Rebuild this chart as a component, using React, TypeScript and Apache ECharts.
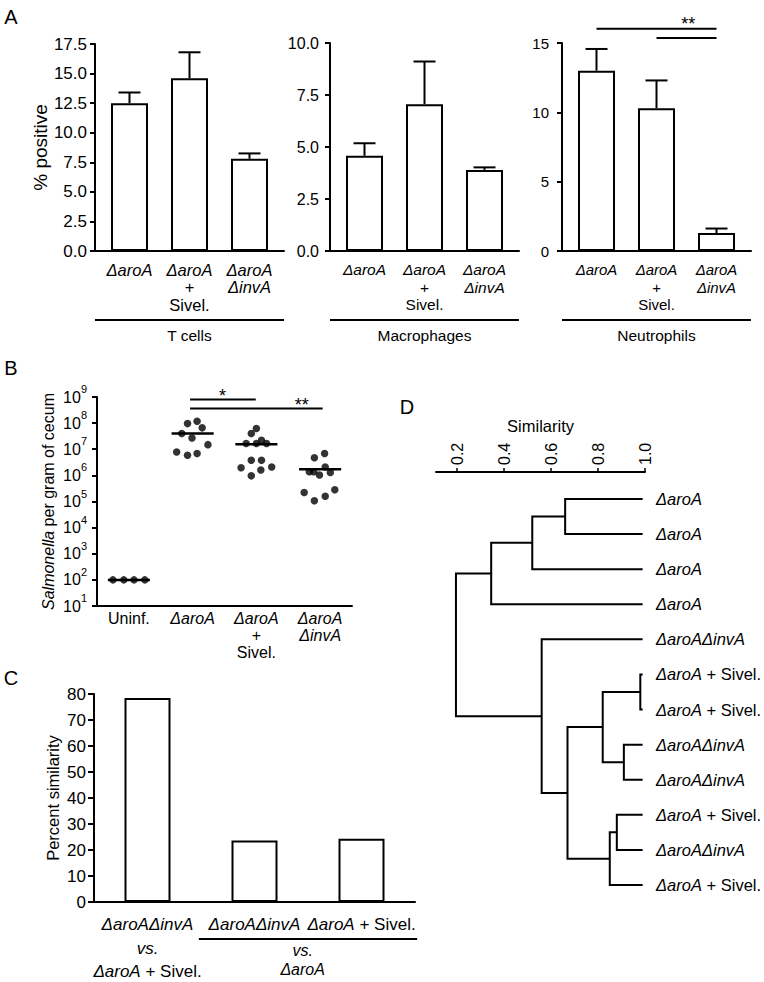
import React, { useEffect, useRef } from 'react';
import * as echarts from 'echarts';

const FONT = "'Liberation Sans', Arial, Helvetica, sans-serif";

// ---------------- Panel A : % positive cells ----------------
const aGroupNames = ['T cells', 'Macrophages', 'Neutrophils'];
const aStrainLabels = ['{i|ΔaroA}', '{i|ΔaroA}\n{r|+}\n{r|Sivel.}', '{i|ΔaroA}\n{i|ΔinvA}'];
const tCellMeans = [12.5, 14.6, 7.8];
const tCellSE = [0.9, 2.2, 0.45];
const macMeans = [4.58, 7.06, 3.9];
const macSE = [0.6, 2.05, 0.12];
const neutMeans = [13.0, 10.3, 1.3];
const neutSE = [1.57, 2.0, 0.32];
const aYMax = [17.5, 10, 15];
const aYInterval = [2.5, 2.5, 5];
const aSigBars = [
  { from: 1, to: 3, y: 16.03 },
  { from: 2, to: 3, y: 15.36 },
];
const aSigText = { x: 2.53, y: 16.03, text: '**' };

// ---------------- Panel B : Salmonella per gram of cecum ----------------
const bGroupLabels = ['{r|Uninf.}', '{i|ΔaroA}', '{i|ΔaroA}\n{r|+}\n{r|Sivel.}', '{i|ΔaroA}\n{i|ΔinvA}'];
const bUninf = [1e2, 1e2, 1e2, 1e2];
const bAroA = [9.6e7, 1.18e8, 6.6e7, 4.0e7, 2.7e7, 1.5e7, 7.9e6, 5.9e6, 6.9e6];
const bAroASivel = [6.2e7, 4.0e7, 1.66e7, 1.66e7, 2.2e7, 1.66e7, 3.8e6, 3.8e6, 1.95e6, 2.1e6, 1.6e6, 9.6e5];
const bAroAInvA = [4.7e6, 6.9e6, 1.38e6, 1.38e6, 1.03e6, 2.1e6, 1.29e6, 2.2e5, 1.07e5, 1.6e5, 2.8e5];
const bMeans = [1e2, 4.0e7, 1.55e7, 1.7e6];
// horizontal scatter offsets of the dots (fraction of a category width)
const bJitter = [
  [-0.25, -0.08, 0.08, 0.25],
  [-0.08, 0.07, 0.15, -0.17, -0.01, 0.24, -0.25, -0.08, 0.07],
  [0.0, -0.08, -0.16, 0.0, 0.08, 0.16, -0.08, 0.08, -0.24, 0.24, 0.07, -0.08],
  [-0.09, 0.07, -0.17, -0.1, -0.01, 0.08, 0.16, -0.25, -0.09, 0.08, 0.23],
];
const bSigBars = [
  { from: 0.96, to: 1.99, y: 10 ** 8.9, text: '*', tx: 1.47 },
  { from: 0.96, to: 3.04, y: 10 ** 8.557, text: '**', tx: 2.71 },
];

// ---------------- Panel C : percent similarity ----------------
const cComparisons = ['ΔaroAΔinvA vs. ΔaroA + Sivel.', 'ΔaroAΔinvA vs. ΔaroA', 'ΔaroA + Sivel. vs. ΔaroA'];
const cLabels = ['{i|ΔaroAΔinvA}\n{v|vs.}\n{i|ΔaroA}{r| + Sivel.}', '{i|ΔaroAΔinvA}', '{i|ΔaroA}{r| + Sivel.}'];
const cValues = [78.5, 23.7, 24.3];
const cBracketLabel = '{v|vs.}\n{i|ΔaroA}';

// ---------------- Panel D : dendrogram ----------------
const dLeafLabels = [
  '{i|ΔaroA}', '{i|ΔaroA}', '{i|ΔaroA}', '{i|ΔaroA}', '{i|ΔaroAΔinvA}',
  '{i|ΔaroA}{r| + Sivel.}', '{i|ΔaroA}{r| + Sivel.}', '{i|ΔaroAΔinvA}', '{i|ΔaroAΔinvA}',
  '{i|ΔaroA}{r| + Sivel.}', '{i|ΔaroAΔinvA}', '{i|ΔaroA}{r| + Sivel.}',
];
const dLeafSimilarity = 0.99;
// [childA, childB, similarity]; ids < 12 are leaves, id 12+k is merge k
const dMerges: [number, number, number][] = [
  [0, 1, 0.66],
  [12, 2, 0.52],
  [13, 3, 0.345],
  [5, 6, 0.98],
  [7, 8, 0.91],
  [15, 16, 0.82],
  [9, 10, 0.88],
  [18, 11, 0.85],
  [17, 19, 0.67],
  [4, 20, 0.56],
  [14, 21, 0.195],
];
const dTicks = [0.2, 0.4, 0.6, 0.8, 1.0];

// ---------------- layout ----------------
const GA = [
  { left: 95, top: 44, width: 189, height: 207 },
  { left: 330, top: 43, width: 189, height: 208 },
  { left: 562, top: 43, width: 189, height: 208 },
];
const GB = { left: 97, top: 397, width: 255, height: 209 };
const GC = { left: 94, top: 694, width: 321, height: 208 };
const GD = { left: 436, top: 499, width: 209, height: 386 };
const aTickFs = [17, 16, 15];
const aTickMargin = [8, 11, 13];
const aLabelFs = [16.5, 15.5, 15];
const panelLetters = [
  { t: 'A', x: 11, y: 17 },
  { t: 'B', x: 11, y: 368 },
  { t: 'C', x: 11, y: 678 },
  { t: 'D', x: 407, y: 407 },
];

const BLACK = '#000';
const axisLine = { show: true, onZero: false, lineStyle: { color: BLACK, width: 2 } };
const richSet = (fs: number, lh: number) => ({
  i: { fontStyle: 'italic', fontSize: fs, lineHeight: lh, fontFamily: FONT, color: BLACK },
  r: { fontSize: fs, lineHeight: lh, fontFamily: FONT, color: BLACK },
  v: { fontStyle: 'italic', fontSize: fs, lineHeight: lh, fontFamily: FONT, color: BLACK },
});

function buildDendrogram() {
  const nodes: { x: number; y: number }[] = [];
  const pos = (id: number) => (id < 12 ? { x: dLeafSimilarity, y: id } : nodes[id - 12]);
  const segs: number[][] = [];
  dMerges.forEach(([a, b, h]) => {
    const pa = pos(a);
    const pb = pos(b);
    segs.push([h, pa.y, pb.y, pa.x, pb.x]);
    nodes.push({ x: h, y: (pa.y + pb.y) / 2 });
  });
  return segs;
}

function errorBarRender(params: any, api: any) {
  const x = api.value(0);
  const lo = api.value(1);
  const hi = api.value(2);
  const p0 = api.coord([x, lo]);
  const p1 = api.coord([x, hi]);
  const cap = 11;
  return {
    type: 'group',
    children: [
      { type: 'line', shape: { x1: p0[0], y1: p0[1], x2: p1[0], y2: p1[1] }, style: { stroke: BLACK, lineWidth: 2 } },
      { type: 'line', shape: { x1: p1[0] - cap, y1: p1[1], x2: p1[0] + cap, y2: p1[1] }, style: { stroke: BLACK, lineWidth: 2 } },
    ],
  };
}

function buildOption(): any {
  const aMeans = [tCellMeans, macMeans, neutMeans];
  const aSE = [tCellSE, macSE, neutSE];
  const grids = [...GA, GB, GC, GD].map((g) => ({ ...g, containLabel: false, outerBoundsMode: 'none' }));

  const xAxes: any[] = [];
  const yAxes: any[] = [];
  const series: any[] = [];

  for (let i = 0; i < 3; i++) {
    xAxes.push({
      gridIndex: i, type: 'value', min: 0.425, max: 3.575,
      axisLine, axisTick: { show: false }, splitLine: { show: false },
      axisLabel: {
        customValues: [1, 2, 3],
        formatter: (v: number) => aStrainLabels[Math.round(v) - 1] ?? '',
        margin: 10, color: BLACK, rich: richSet(aLabelFs[i], 17.5),
      },
    });
    yAxes.push({
      gridIndex: i, type: 'value', min: 0, max: aYMax[i], interval: aYInterval[i],
      axisLine, axisTick: { show: true, length: 5, lineStyle: { color: BLACK, width: 2 } },
      splitLine: { show: false },
      axisLabel: {
        fontSize: aTickFs[i], color: BLACK, fontFamily: FONT, margin: aTickMargin[i],
        formatter: (v: number) => (i === 2 ? String(v) : v.toFixed(1)),
      },
      name: i === 0 ? '% positive' : '', nameLocation: 'middle', nameGap: 41,
      nameTextStyle: { fontSize: 19, color: BLACK, fontFamily: FONT },
    });
    series.push({
      type: 'bar', xAxisIndex: i, yAxisIndex: i, barWidth: 37,
      data: aMeans[i].map((v, k) => [k + 1, v]),
      itemStyle: { color: '#fff', borderColor: BLACK, borderWidth: 2 },
      z: 2,
    });
    series.push({
      type: 'custom', xAxisIndex: i, yAxisIndex: i, z: 1,
      data: aMeans[i].map((v, k) => [k + 1, v, v + aSE[i][k]]),
      encode: { x: 0, y: [1, 2] },
      renderItem: errorBarRender,
    });
  }

  // Panel B
  xAxes.push({
    gridIndex: 3, type: 'value', min: -0.5, max: 3.5,
    axisLine, axisTick: { show: false }, splitLine: { show: false },
    axisLabel: {
      customValues: [0, 1, 2, 3],
      formatter: (v: number) => bGroupLabels[Math.round(v)] ?? '',
      margin: 4, color: BLACK, rich: richSet(16, 17),
    },
  });
  yAxes.push({
    gridIndex: 3, type: 'log', logBase: 10, min: 10, max: 1e9,
    axisLine, axisTick: { show: true, length: 5, lineStyle: { color: BLACK, width: 2 } },
    splitLine: { show: false }, minorTick: { show: false },
    axisLabel: {
      margin: 10, color: BLACK,
      formatter: (v: number) => `{b|10}{s|${Math.round(Math.log10(v))}}`,
      rich: {
        b: { fontSize: 16, fontFamily: FONT, color: BLACK },
        s: { fontSize: 11, fontFamily: FONT, color: BLACK, padding: [0, 0, 16, 0] },
      },
    },
    name: '{i|Salmonella} per gram of cecum', nameLocation: 'middle', nameGap: 41,
    nameTextStyle: {
      fontSize: 16, color: BLACK, fontFamily: FONT,
      rich: { i: { fontStyle: 'italic', fontSize: 16, fontFamily: FONT, color: BLACK } },
    },
  });
  const bGroups = [bUninf, bAroA, bAroASivel, bAroAInvA];
  series.push({
    type: 'scatter', xAxisIndex: 3, yAxisIndex: 3, symbol: 'circle', symbolSize: 7.5,
    itemStyle: { color: BLACK },
    data: bGroups.flatMap((vals, g) => vals.map((v, k) => [g + bJitter[g][k], v])),
  });
  series.push({
    type: 'custom', xAxisIndex: 3, yAxisIndex: 3,
    data: bMeans.map((m, g) => [g, m]),
    encode: { x: 0, y: 1 },
    renderItem: (p: any, api: any) => {
      const g = api.value(0);
      const m = api.value(1);
      const a = api.coord([g - 0.33, m]);
      const b = api.coord([g + 0.33, m]);
      return { type: 'line', shape: { x1: a[0], y1: a[1], x2: b[0], y2: b[1] }, style: { stroke: BLACK, lineWidth: 2.5 } };
    },
  });

  // Panel C
  xAxes.push({
    gridIndex: 4, type: 'category', data: cComparisons, boundaryGap: true,
    axisLine, axisTick: { show: false },
    axisLabel: {
      interval: 0, margin: 11, color: BLACK,
      formatter: (_v: string, idx: number) => cLabels[idx],
      rich: richSet(17, 23.5),
    },
  });
  yAxes.push({
    gridIndex: 4, type: 'value', min: 0, max: 80, interval: 10,
    axisLine, axisTick: { show: true, length: 6, lineStyle: { color: BLACK, width: 2 } },
    splitLine: { show: false },
    axisLabel: { fontSize: 17, color: BLACK, fontFamily: FONT, margin: 8 },
    name: 'Percent similarity', nameLocation: 'middle', nameGap: 33,
    nameTextStyle: { fontSize: 16.5, color: BLACK, fontFamily: FONT },
  });
  series.push({
    type: 'bar', xAxisIndex: 4, yAxisIndex: 4, barWidth: 46, data: cValues,
    itemStyle: { color: '#fff', borderColor: BLACK, borderWidth: 2 },
  });

  // Panel D
  xAxes.push({
    gridIndex: 5, type: 'value', position: 'top', offset: 27, min: 0.11, max: 1.0,
    axisLine, splitLine: { show: false },
    axisTick: { show: true, customValues: dTicks, length: 4, lineStyle: { color: BLACK, width: 1.5 } },
    axisLabel: {
      customValues: dTicks, rotate: -90, margin: 7, fontSize: 16, color: BLACK, fontFamily: FONT,
      formatter: (v: number) => v.toFixed(1),
    },
    name: 'Similarity', nameLocation: 'middle', nameGap: 38,
    nameTextStyle: { fontSize: 16.5, color: BLACK, fontFamily: FONT },
  });
  yAxes.push({
    gridIndex: 5, type: 'value', inverse: true, min: 0, max: 11, interval: 1, position: 'right',
    axisLine: { show: false }, axisTick: { show: false }, splitLine: { show: false },
    axisLabel: {
      margin: 11, color: BLACK,
      formatter: (v: number) => dLeafLabels[Math.round(v)] ?? '',
      rich: richSet(16.5, 20),
    },
  });
  series.push({
    type: 'custom', xAxisIndex: 5, yAxisIndex: 5,
    data: buildDendrogram(),
    encode: { x: [0, 3, 4], y: [1, 2] },
    renderItem: (p: any, api: any) => {
      const h = api.value(0);
      const ya = api.value(1);
      const yb = api.value(2);
      const xa = api.value(3);
      const xb = api.value(4);
      const pts = [api.coord([xa, ya]), api.coord([h, ya]), api.coord([h, yb]), api.coord([xb, yb])];
      return { type: 'polyline', shape: { points: pts }, style: { stroke: BLACK, lineWidth: 2, fill: 'none' } };
    },
  });

  return {
    animation: false,
    backgroundColor: '#fff',
    textStyle: { fontFamily: FONT, color: BLACK },
    grid: grids,
    xAxis: xAxes,
    yAxis: yAxes,
    series,
  };
}

function buildGraphics(chart: any) {
  const px = (grid: number, pt: number[]) => chart.convertToPixel({ gridIndex: grid }, pt) as number[];
  const els: any[] = [];
  const L = (x1: number, y1: number, x2: number, y2: number, w = 2) => ({
    type: 'line', silent: true, shape: { x1, y1, x2, y2 }, style: { stroke: BLACK, lineWidth: w },
  });
  const T = (x: number, y: number, text: string, fs = 16, extra: any = {}) => ({
    type: 'text', silent: true, x, y,
    style: {
      text, fontFamily: FONT, fontSize: fs, fill: BLACK,
      align: 'center', verticalAlign: 'middle', textAlign: 'center', textVerticalAlign: 'middle', ...extra,
    },
  });

  panelLetters.forEach((p) => els.push(T(p.x, p.y, p.t, 20)));

  // Panel A group brackets
  GA.forEach((g, i) => {
    els.push(L(g.left, 320, g.left + g.width, 320));
    els.push(T(g.left + g.width / 2, 335, aGroupNames[i], 15.5));
  });
  // Panel A significance
  aSigBars.forEach((s) => {
    const a = px(2, [s.from, s.y]);
    const b = px(2, [s.to, s.y]);
    els.push(L(a[0], a[1], b[0], b[1]));
  });
  {
    const p = px(2, [aSigText.x, aSigText.y]);
    els.push(T(p[0], p[1] - 5, aSigText.text, 18));
  }

  // Panel B significance
  bSigBars.forEach((s) => {
    const a = px(3, [s.from, s.y]);
    const b = px(3, [s.to, s.y]);
    els.push(L(a[0], a[1], b[0], b[1]));
    const t = px(3, [s.tx, s.y]);
    els.push(T(t[0], t[1] - 3.5, s.text, 18));
  });

  // Panel C bracket under the last two bars
  const band = GC.width / 3;
  const yLine = 939;
  els.push(L(GC.left + band * 0.98, yLine, GC.left + band * 3.02, yLine));
  const cx = GC.left + band * 1.95;
  els.push(T(cx, 960, cBracketLabel, 16, { rich: richSet(16, 19) }));

  return els;
}

export default function App() {
  const ref = useRef<HTMLDivElement>(null);
  useEffect(() => {
    if (!ref.current) return;
    const chart = echarts.init(ref.current, null, { renderer: 'svg' });
    chart.setOption(buildOption());
    chart.setOption({ graphic: buildGraphics(chart) });
    return () => chart.dispose();
  }, []);
  return (
    <div
      ref={ref}
      style={{ position: 'fixed', left: 0, top: 0, width: 764, height: 982, background: '#fff' }}
    />
  );
}
